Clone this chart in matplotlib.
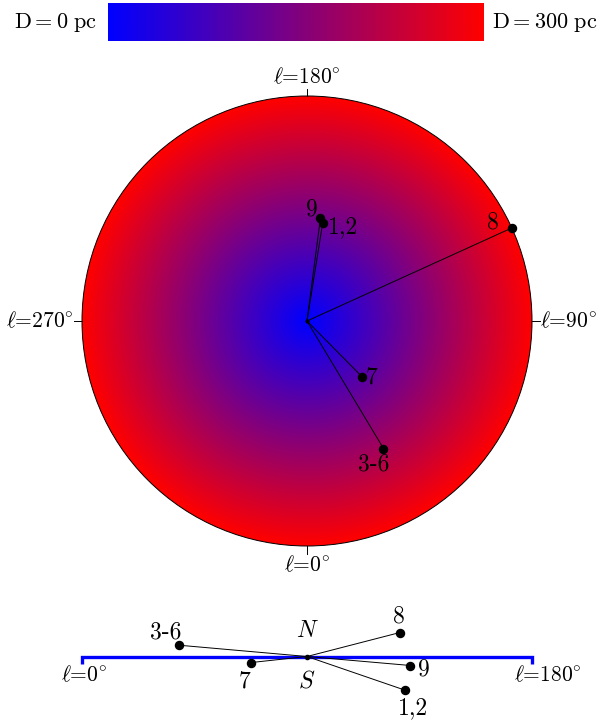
import numpy as np
import matplotlib
matplotlib.use("Agg")
import matplotlib.pyplot as plt
from matplotlib.colors import LinearSegmentedColormap
from matplotlib.patches import Circle

plt.rcParams['mathtext.fontset'] = 'cm'
plt.rcParams['font.family'] = ['cmr10', 'DejaVu Sans']
plt.rcParams['axes.unicode_minus'] = False

# ---- data (pc) ----
labels = ['1,2', '3-6', '7', '8', '9']
X = [21, 102, 73, 273, 18]        # toward l=90
Y = [131, -170, -74, 124, 138]    # toward l=180
Z = [-45, 15, -8, 32, -12]        # toward N
D_MAX = 300
lon_ticks = [0, 90, 180, 270]

# ---- styles / label offsets (pixels) ----
top_off = {'1,2': (20, -4), '3-6': (-10, -16), '7': (10, -1), '8': (-19, 6), '9': (-9, 8)}
bot_off = {'1,2': (8, -18), '3-6': (-14, 13), '7': (-7, -19), '8': (-1, 16), '9': (13, -4)}
FS = 15.5
FS_PT = 17
FS_D = 16
PX = 0.72  # points per pixel

cmap = LinearSegmentedColormap.from_list('br', [(0, 0, 1), (1, 0, 0)])

W, H = 600, 722
fig = plt.figure(figsize=(W / 100, H / 100), dpi=100)
S = 0.75  # px per pc

def make_ax(px0, px1, py0, py1, cx, cy):
    ax = fig.add_axes([px0 / W, (H - py1) / H, (px1 - px0) / W, (py1 - py0) / H])
    ax.set_xlim((px0 - cx) / S, (px1 - cx) / S)
    ax.set_ylim((cy - py1) / S, (cy - py0) / S)
    ax.axis('off')
    return ax

def lon_label(l):
    return r'$\ell$=%d$^{\circ}$' % l

# ---- colour bar ----
cax = fig.add_axes([108 / W, (H - 41) / H, 376 / W, 38 / H])
cax.imshow(np.linspace(0, 1, 512)[None, :], cmap=cmap, aspect='auto')
cax.axis('off')
fig.text(97 / W, 1 - 22 / H, r'$\mathrm{D} = 0\ \mathrm{pc}$', ha='right', va='center', fontsize=FS_D)
fig.text(492 / W, 1 - 22 / H, r'$\mathrm{D} = 300\ \mathrm{pc}$', ha='left', va='center', fontsize=FS_D)

# ---- top view ----
ax = make_ax(0, 600, 48, 600, 307, 321)
n = 600
g = np.linspace(-D_MAX, D_MAX, n)
gx, gy = np.meshgrid(g, g)
r = np.sqrt(gx ** 2 + gy ** 2) / D_MAX
im = ax.imshow(np.clip(r, 0, 1), cmap=cmap, extent=[-D_MAX, D_MAX, -D_MAX, D_MAX],
               origin='lower', interpolation='bilinear', zorder=1)
circ = Circle((0, 0), D_MAX, transform=ax.transData, facecolor='none')
im.set_clip_path(circ)
ax.add_patch(Circle((0, 0), D_MAX, facecolor='none', edgecolor='black', lw=0.7, zorder=3))

for l in lon_ticks:
    s, c = np.sin(np.radians(l)), -np.cos(np.radians(l))
    ax.plot([D_MAX * s, (D_MAX + 10) * s], [D_MAX * c, (D_MAX + 10) * c], color='black', lw=0.7, zorder=3)
    ha = 'center' if abs(s) < 1e-9 else ('left' if s > 0 else 'right')
    va = 'center' if abs(c) < 1e-9 else ('bottom' if c > 0 else 'top')
    ax.text((D_MAX + 11) * s, (D_MAX + 12) * c, lon_label(l),
            ha=ha, va=va, fontsize=FS, zorder=4)

for lab, x, y in zip(labels, X, Y):
    ax.plot([0, x], [0, y], color='black', lw=0.7, zorder=4)
    ax.plot(x, y, 'o', color='black', ms=5.8, zorder=5)
    dx, dy = top_off[lab]
    ax.annotate(lab, (x, y), xytext=(dx * PX, dy * PX), textcoords='offset points',
                ha='center', va='center', fontsize=FS_PT, zorder=6)
ax.plot(0, 0, 'o', color='black', ms=2, zorder=5)

# ---- edge-on view ----
bx = make_ax(0, 600, 598, 722, 307, 656.5)
bx.plot([-D_MAX, -D_MAX, D_MAX, D_MAX], [-9.5, 0, 0, -9.5], color='blue', lw=2.4,
        solid_joinstyle='miter', solid_capstyle='butt', zorder=2)
bx.annotate(lon_label(0), (-D_MAX, 0), xytext=(2 * PX, -18.5 * PX), textcoords='offset points',
            ha='center', va='center', fontsize=FS)
bx.annotate(lon_label(180), (D_MAX, 0), xytext=(16 * PX, -18.5 * PX), textcoords='offset points',
            ha='center', va='center', fontsize=FS)
bx.annotate(r'$N$', (0, 0), xytext=(0, 25.5 * PX), textcoords='offset points',
            ha='center', va='center', fontsize=FS_PT)
bx.annotate(r'$S$', (0, 0), xytext=(0, -25 * PX), textcoords='offset points',
            ha='center', va='center', fontsize=FS_PT)
for lab, y, z in zip(labels, Y, Z):
    bx.plot([0, y], [0, z], color='black', lw=0.7, zorder=4)
    bx.plot(y, z, 'o', color='black', ms=5.8, zorder=5)
    dx, dy = bot_off[lab]
    bx.annotate(lab, (y, z), xytext=(dx * PX, dy * PX), textcoords='offset points',
                ha='center', va='center', fontsize=FS_PT, zorder=6)
bx.plot(0, 0, 'o', color='black', ms=3, zorder=5)

fig.savefig('out.png', dpi=100)
